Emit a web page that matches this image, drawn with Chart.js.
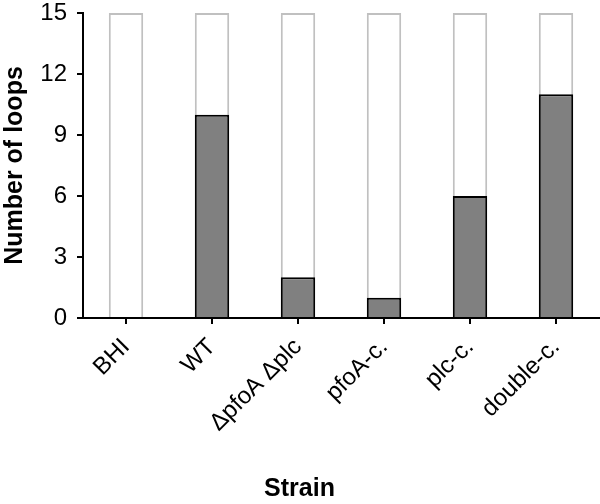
<!DOCTYPE html>
<html>
<head>
<meta charset="utf-8">
<script src="https://cdn.jsdelivr.net/npm/chart.js@4"></script>
<style>
  html, body { margin: 0; padding: 0; background: #fff; }
  #wrap { width: 600px; height: 504px; }
</style>
</head>
<body>
<div id="wrap"><canvas id="loopsChart"></canvas></div>
<script>
const strains = ['BHI', 'WT', '\u0394pfoA \u0394plc', 'pfoA-c.', 'plc-c.', 'double-c.'];
const loopCounts = [0, 10, 2, 1, 6, 11];
const totalLoops = [15, 15, 15, 15, 15, 15];
const yTicks = [0, 3, 6, 9, 12, 15];

document.addEventListener('DOMContentLoaded', function () {
    const ctx = document.getElementById('loopsChart');
    const font = 'Liberation Sans, Arial, sans-serif';

    new Chart(ctx, {
        type: 'bar',
        data: {
            labels: strains,
            datasets: [{
                label: 'Loops',
                data: loopCounts,
                backgroundColor: '#808080',
                borderColor: '#000',
                borderWidth: function (c) { return c.raw > 0 ? 2 : 0; },
                borderSkipped: 'start',
                grouped: false,
                order: 0,
                barPercentage: 0.4,
                categoryPercentage: 1
            }, {
                label: 'Total',
                data: totalLoops,
                backgroundColor: '#fff',
                borderColor: '#c0c0c0',
                borderWidth: 2,
                borderSkipped: 'start',
                grouped: false,
                order: 1,
                barPercentage: 0.4,
                categoryPercentage: 1
            }]
        },
        options: {
            responsive: true,
            maintainAspectRatio: false,
            animation: false,
            layout: { padding: { top: 13, right: 1, left: 0, bottom: 0 } },
            plugins: {
                legend: { display: false },
                tooltip: { enabled: false },
                title: {
                    display: true,
                    text: 'Strain',
                    position: 'bottom',
                    color: '#000',
                    font: { family: font, size: 25, weight: 'bold' },
                    padding: { top: 0, bottom: 0 }
                }
            },
            scales: {
                x: {
                    afterFit: function (s) { s.height = 156; },
                    grid: {
                        offset: false,
                        drawOnChartArea: false,
                        drawTicks: true,
                        tickLength: 6,
                        color: '#000',
                        lineWidth: 2
                    },
                    border: { display: true, color: '#000', width: 2 },
                    ticks: {
                        color: '#000',
                        font: { family: font, size: 24 },
                        minRotation: 45,
                        maxRotation: 45,
                        autoSkip: false,
                        padding: 9
                    }
                },
                y: {
                    min: 0,
                    max: 15,
                    afterFit: function (s) {
                        s.width = 83;
                        s.paddingTop = 0;
                    },
                    afterBuildTicks: function (s) {
                        s.ticks = yTicks.map(function (v) { return { value: v }; });
                    },
                    grid: {
                        drawOnChartArea: false,
                        drawTicks: true,
                        tickLength: 6,
                        color: '#000',
                        lineWidth: 2
                    },
                    border: { display: true, color: '#000', width: 2 },
                    ticks: {
                        color: '#000',
                        font: { family: font, size: 24 },
                        padding: 10
                    },
                    title: {
                        display: true,
                        text: 'Number of loops',
                        color: '#000',
                        font: { family: font, size: 25, weight: 'bold' },
                        padding: 0
                    }
                }
            }
        }
    });
});
</script>
</body>
</html>
